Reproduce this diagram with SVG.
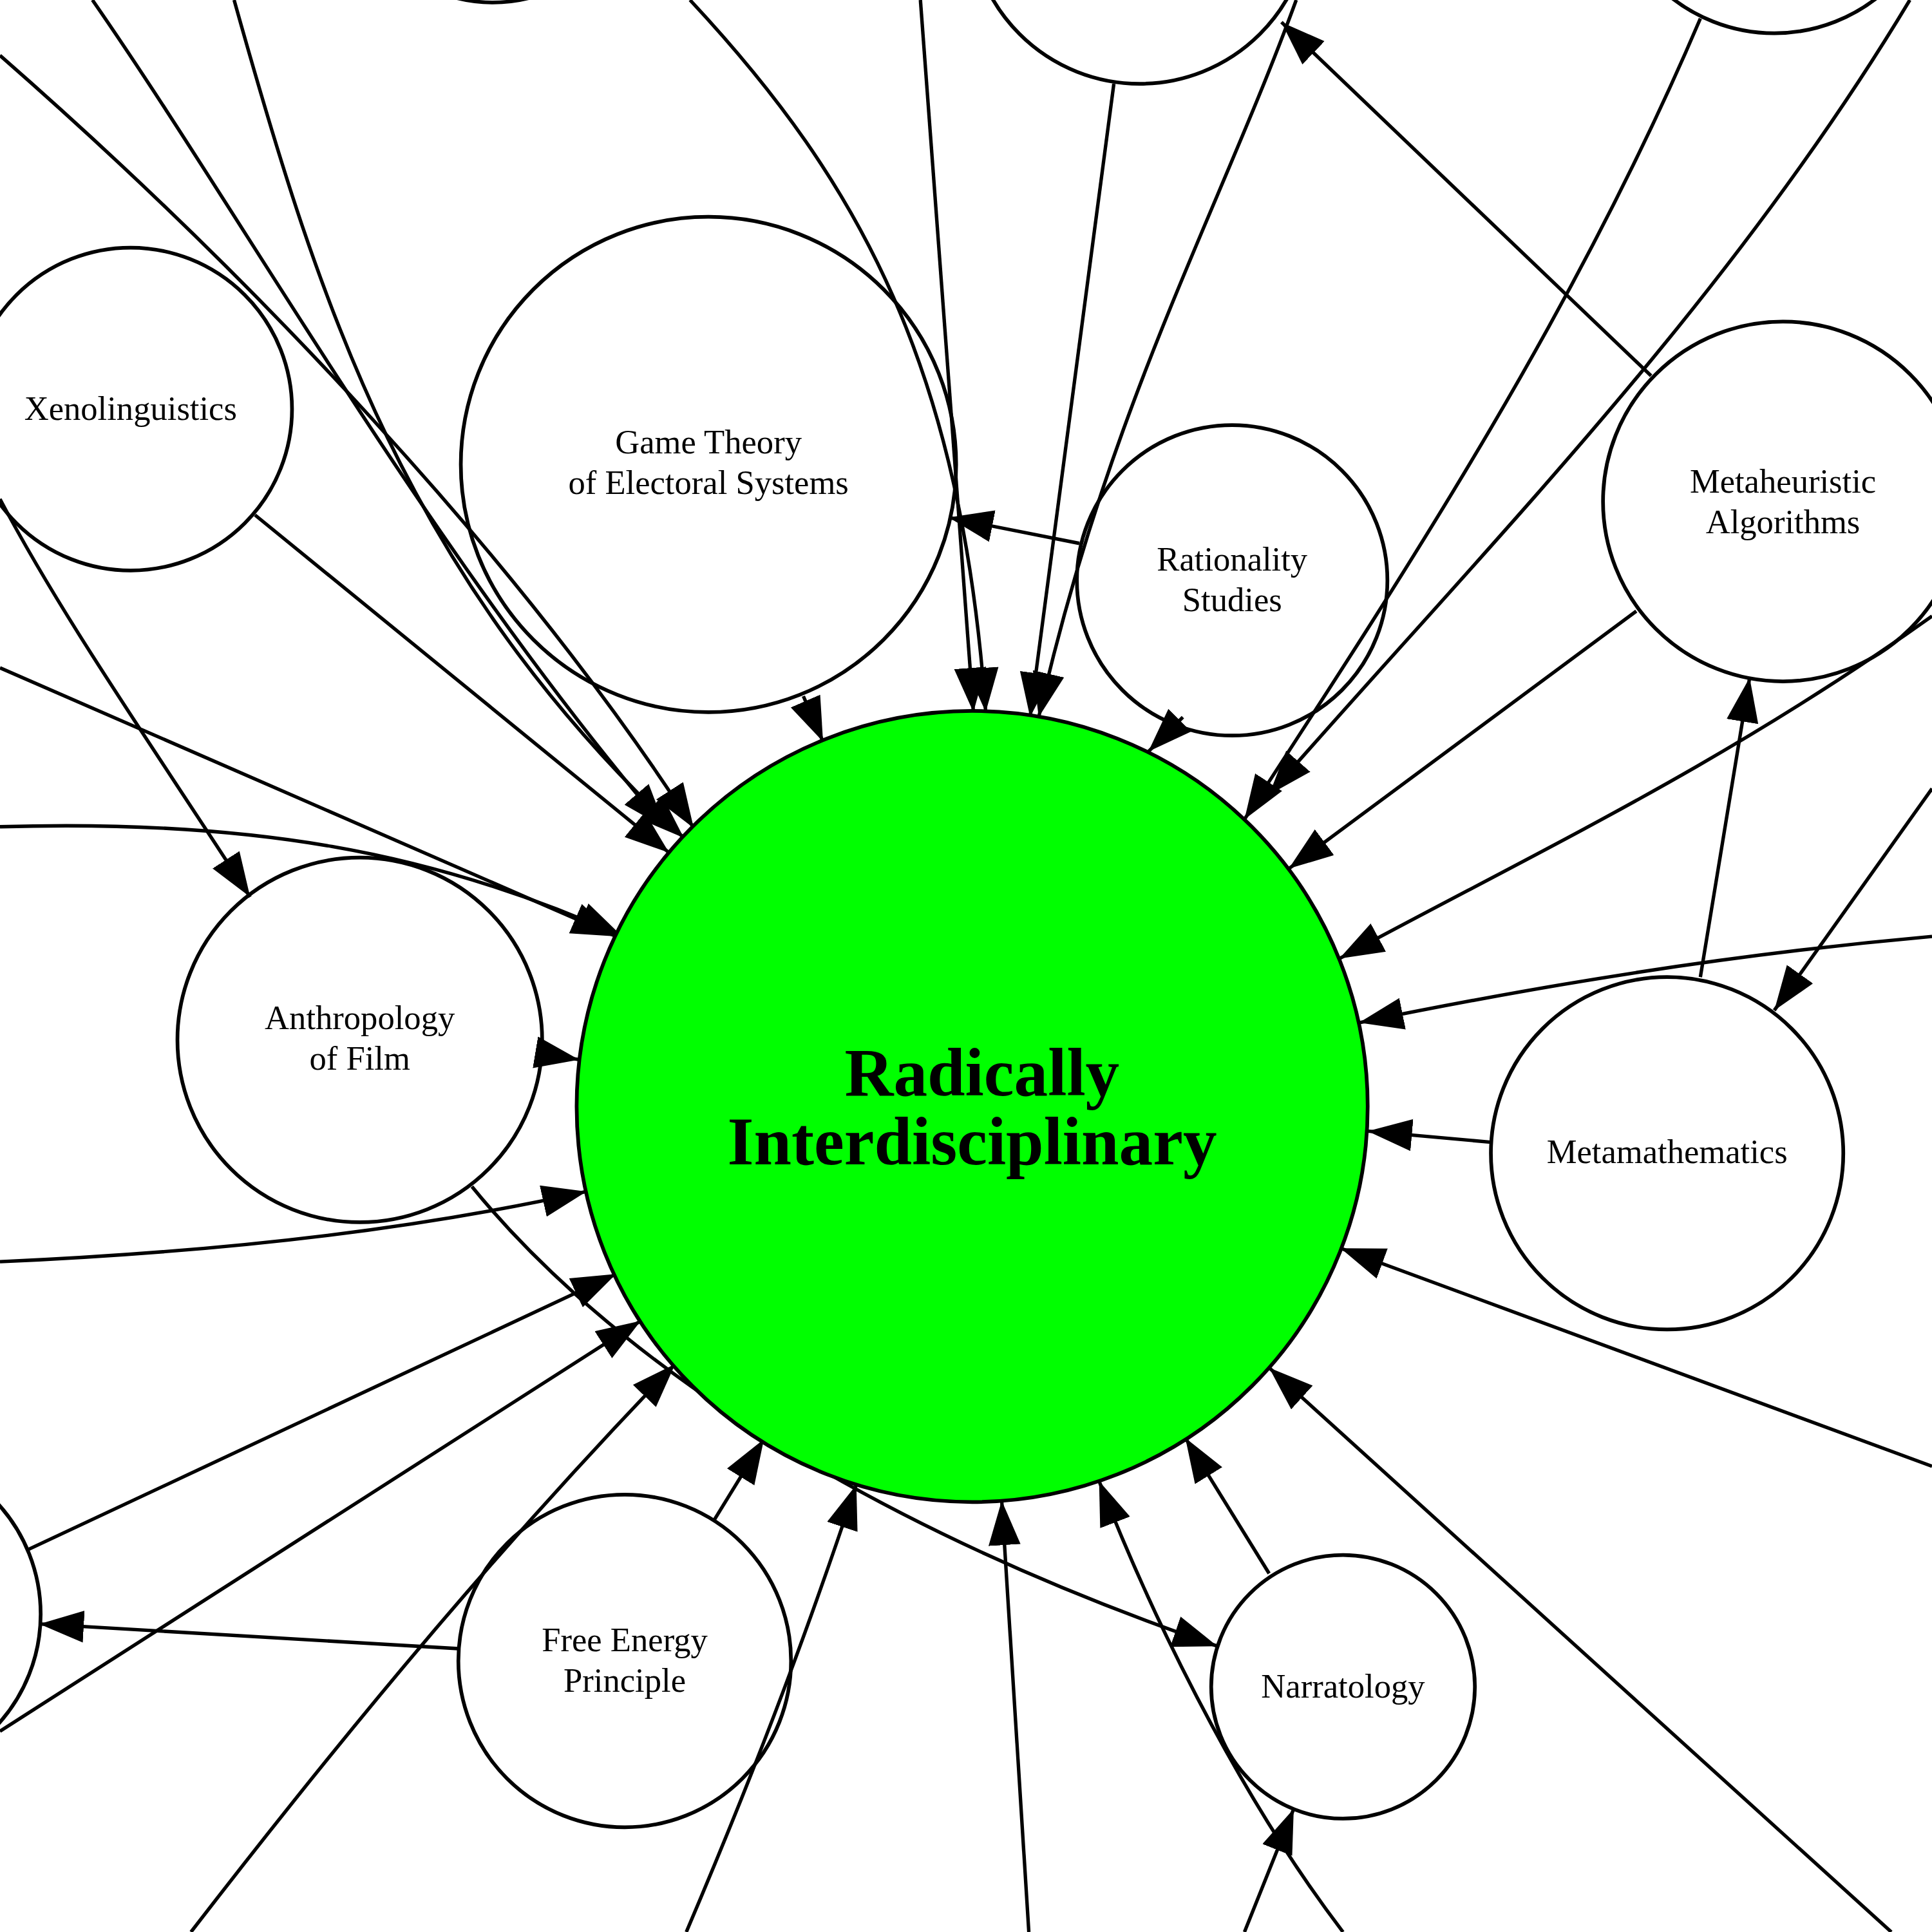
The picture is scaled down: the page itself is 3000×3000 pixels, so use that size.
<svg xmlns="http://www.w3.org/2000/svg" width="3000" height="3000" viewBox="0 0 3000 3000">
<style>
.n{fill:#fff;stroke:#000;stroke-width:3}
.t{font-family:"Liberation Serif",serif;font-size:27.5px;text-anchor:middle}
.c{font-family:"Liberation Serif",serif;font-weight:bold;font-size:55px;text-anchor:middle}
.e path{fill:none;stroke:#000;stroke-width:2.8;marker-end:url(#a)}
</style>
<defs><marker id="a" markerUnits="userSpaceOnUse" markerWidth="40" markerHeight="30" refX="36" refY="13" orient="auto"><path d="M0,0 L36,13 L0,26 z" fill="#000"/></marker></defs>
<rect width="3000" height="3000" fill="#fff"/>
<g transform="scale(1.91327)">
<g id="top1"><circle class="n" cx="400" cy="-120" r="122"/></g>
<g id="top2"><circle class="n" cx="925" cy="-70" r="138"/></g>
<g id="top3"><circle class="n" cx="1440" cy="-108" r="135"/></g>
<g id="left1"><circle class="n" cx="-100" cy="1310" r="133"/></g>
<g id="xeno"><circle class="n" cx="106" cy="332" r="131"/><text class="t" x="106" y="341">Xenolinguistics</text></g>
<g id="game"><circle class="n" cx="575" cy="377" r="201"/><text class="t" x="575" y="368">Game Theory</text><text class="t" x="575" y="401">of Electoral Systems</text></g>
<g id="rat"><circle class="n" cx="1000" cy="471" r="126"/><text class="t" x="1000" y="463">Rationality</text><text class="t" x="1000" y="496">Studies</text></g>
<g id="meta"><circle class="n" cx="1447" cy="407" r="146"/><text class="t" x="1447" y="400">Metaheuristic</text><text class="t" x="1447" y="433">Algorithms</text></g>
<g id="anth"><circle class="n" cx="292" cy="844" r="148"/><text class="t" x="292" y="835">Anthropology</text><text class="t" x="292" y="868">of Film</text></g>
<g id="mm"><circle class="n" cx="1353" cy="936" r="143"/><text class="t" x="1353" y="944">Metamathematics</text></g>
<g id="fep"><circle class="n" cx="507" cy="1348" r="135"/><text class="t" x="507" y="1340">Free Energy</text><text class="t" x="507" y="1373">Principle</text></g>
<g id="narr"><circle class="n" cx="1090" cy="1369" r="107"/><text class="t" x="1090" y="1378">Narratology</text></g>
<g class="e">
<path d="M75,0 C200,180 350,450 540,672"/>
<path d="M0,45 C200,220 420,450 563,672"/>
<path d="M190,0 C260,250 330,470 555,680"/>
<path d="M207,418 L543,692"/>
<path d="M560,0 C700,150 780,300 800,578"/>
<path d="M747,0 L790,578"/>
<path d="M904,68 L836,582"/>
<path d="M1052,0 C990,170 900,330 843,582"/>
<path d="M1340,305 L1040,18"/>
<path d="M652,565 L668,602"/>
<path d="M876,441 L770,420"/>
<path d="M960,582 L932,610"/>
<path d="M1380,15 C1280,250 1150,450 1010,665"/>
<path d="M1550,0 C1400,250 1200,450 1030,645"/>
<path d="M1328,496 L1046,705"/>
<path d="M1568,500 C1400,620 1250,690 1087,778"/>
<path d="M1568,760 C1400,775 1250,800 1103,830"/>
<path d="M1380,793 L1420,550"/>
<path d="M1568,640 L1440,820"/>
<path d="M1210,927 L1110,918"/>
<path d="M1568,1190 L1088,1013"/>
<path d="M1535,1568 L1030,1110"/>
<path d="M1030,1277 L962,1167"/>
<path d="M1090,1568 C1000,1450 930,1300 892,1202"/>
<path d="M835,1568 L813,1218"/>
<path d="M557,1568 C620,1420 660,1310 695,1205"/>
<path d="M580,1233 L620,1168"/>
<path d="M155,1568 C300,1380 420,1240 548,1107"/>
<path d="M0,1405 L520,1072"/>
<path d="M22,1258 L500,1034"/>
<path d="M0,1024 C200,1015 350,995 476,967"/>
<path d="M383,963 C470,1070 650,1220 988,1336"/>
<path d="M440,855 L470,860"/>
<path d="M372,1338 L32,1318"/>
<path d="M0,405 C50,500 120,600 203,728"/>
<path d="M0,542 L500,760"/>
<path d="M0,671 C200,665 350,690 505,760"/>
<path d="M1010,1568 L1050,1468"/>
</g>
<g id="center"><circle cx="789" cy="898" r="321" fill="#00ff00" stroke="#000" stroke-width="3"/>
<text class="c" x="797" y="889">Radically</text>
<text class="c" x="789" y="945">Interdisciplinary</text></g>
</g>
</svg>
